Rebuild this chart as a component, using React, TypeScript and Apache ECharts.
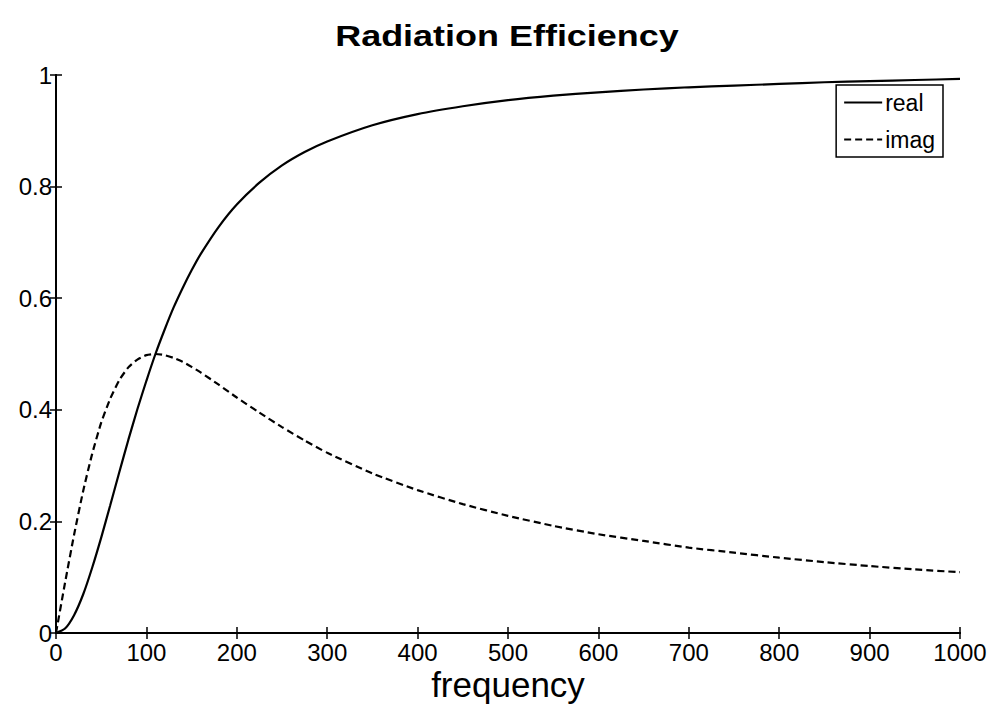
import React, { useEffect, useRef } from "react";
import * as echarts from "echarts";

const frequencies = [0, 10, 20, 30, 40, 50, 60, 70, 80, 90, 100, 110, 120, 130, 140, 150, 160, 180, 200, 225, 250, 275, 300, 350, 400, 450, 500, 550, 600, 650, 700, 750, 800, 850, 900, 950, 1000];
const realValues = [0, 0.008, 0.032, 0.069, 0.117, 0.171, 0.229, 0.288, 0.346, 0.401, 0.452, 0.5, 0.543, 0.583, 0.618, 0.65, 0.679, 0.728, 0.768, 0.807, 0.838, 0.862, 0.881, 0.91, 0.93, 0.944, 0.955, 0.963, 0.969, 0.974, 0.978, 0.981, 0.984, 0.987, 0.989, 0.991, 0.993];
const imagValues = [0, 0.09, 0.176, 0.254, 0.321, 0.377, 0.42, 0.453, 0.476, 0.49, 0.498, 0.5, 0.498, 0.493, 0.486, 0.477, 0.467, 0.445, 0.422, 0.395, 0.369, 0.345, 0.323, 0.286, 0.256, 0.231, 0.21, 0.192, 0.177, 0.165, 0.153, 0.144, 0.135, 0.127, 0.12, 0.114, 0.109];
const xTicks = { min: 0, max: 1000, interval: 100 };
const yTicks = { min: 0, max: 1, interval: 0.2 };
const seriesNames = ["real", "imag"];
const titleText = "Radiation Efficiency";
const xAxisName = "frequency";

const FONT = "'Liberation Sans', Arial, Helvetica, sans-serif";

export default function App() {
  const ref = useRef<HTMLDivElement>(null);
  useEffect(() => {
    document.body.style.margin = "0";
    const chart = echarts.init(ref.current!, null, { renderer: "svg" });
    const realData = frequencies.map((f, i) => [f, realValues[i]]);
    const imagData = frequencies.map((f, i) => [f, imagValues[i]]);
    const tickStyle = { show: true, inside: true, length: 6, lineStyle: { color: "#000", width: 1.5 } };
    const lineStyleAxis = { show: true, lineStyle: { color: "#000", width: 2 } };
    chart.setOption({
      animation: false,
      backgroundColor: "#fff",
      textStyle: { fontFamily: FONT },
      grid: { left: 56, right: 46, top: 75, bottom: 76, containLabel: false, outerBoundsMode: "none" },
      legend: {
        orient: "vertical",
        right: 63,
        top: 85,
        padding: [6, 8, 6, 7],
        itemGap: 14,
        itemWidth: 38,
        itemHeight: 23,
        borderColor: "#000",
        borderWidth: 1.5,
        backgroundColor: "#fff",
        borderRadius: 0,
        itemStyle: { opacity: 0 },
        textStyle: { fontFamily: FONT, fontSize: 23, color: "#000", padding: [0, 0, 0, -2] },
        data: seriesNames,
      },
      xAxis: [
        {
          type: "value",
          min: xTicks.min,
          max: xTicks.max,
          interval: xTicks.interval,
          position: "bottom",
          axisLine: lineStyleAxis,
          axisTick: tickStyle,
          splitLine: { show: false },
          axisLabel: { color: "#000", fontSize: 24, fontFamily: FONT, margin: 7, formatter: (v: number) => String(v) },
        },
        {
          type: "value",
          min: xTicks.min,
          max: xTicks.max,
          interval: xTicks.interval,
          position: "top",
          axisLine: lineStyleAxis,
          axisTick: tickStyle,
          splitLine: { show: false },
          axisLabel: { show: false },
        },
      ],
      yAxis: [
        {
          type: "value",
          min: yTicks.min,
          max: yTicks.max,
          interval: yTicks.interval,
          position: "left",
          axisLine: lineStyleAxis,
          axisTick: tickStyle,
          splitLine: { show: false },
          axisLabel: { color: "#000", fontSize: 24, fontFamily: FONT, margin: 4 },
        },
        {
          type: "value",
          min: yTicks.min,
          max: yTicks.max,
          interval: yTicks.interval,
          position: "right",
          axisLine: lineStyleAxis,
          axisTick: tickStyle,
          splitLine: { show: false },
          axisLabel: { show: false },
        },
      ],
      graphic: [
        {
          type: "text",
          x: 507,
          y: 36,
          scaleX: 1.24,
          style: {
            text: titleText,
            fontFamily: FONT,
            fontSize: 29,
            fontWeight: "bold",
            fill: "#000",
            align: "center",
            verticalAlign: "middle",
          },
        },
        {
          type: "text",
          x: 508,
          y: 684,
          style: {
            text: xAxisName,
            fontFamily: FONT,
            fontSize: 35,
            fill: "#000",
            align: "center",
            verticalAlign: "middle",
          },
        },
      ],
      series: [
        {
          name: seriesNames[0],
          type: "line",
          data: realData,
          showSymbol: false,
          symbol: "none",
          smooth: 0.2,
          lineStyle: { color: "#000", width: 2.2, type: "solid" },
          itemStyle: { color: "#000" },
        },
        {
          name: seriesNames[1],
          type: "line",
          data: imagData,
          showSymbol: false,
          symbol: "none",
          smooth: 0.2,
          lineStyle: { color: "#000", width: 2.2, type: [7, 4] },
          itemStyle: { color: "#000" },
        },
      ],
    });
    return () => chart.dispose();
  }, []);
  return <div ref={ref} style={{ width: 1006, height: 709, position: "absolute", left: 0, top: 0 }} />;
}
